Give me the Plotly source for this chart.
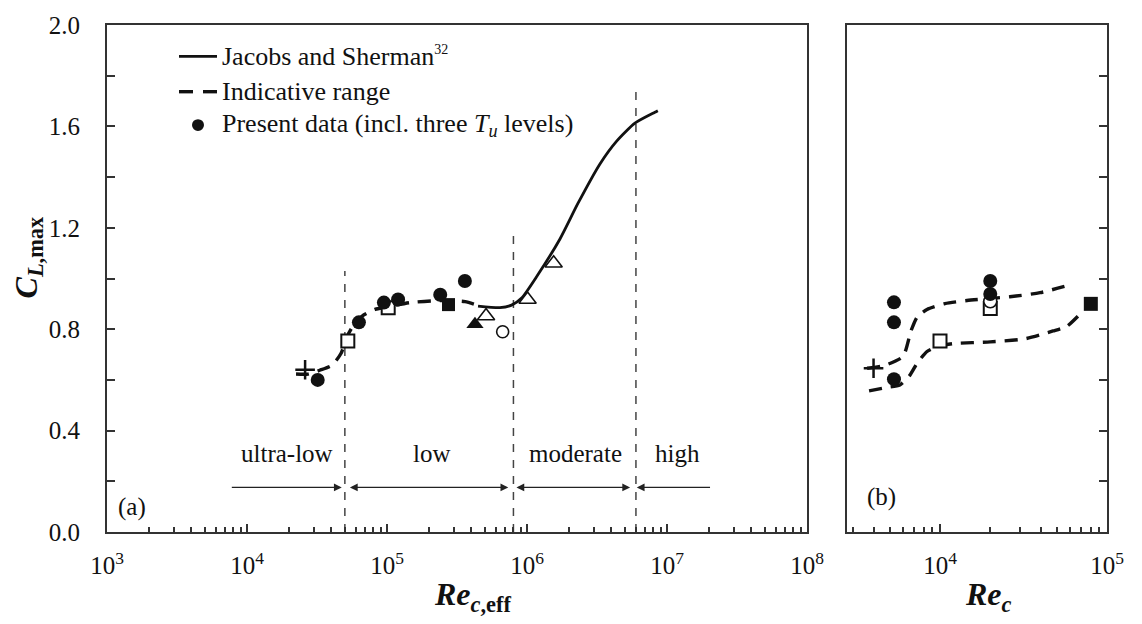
import numpy as np
import plotly.graph_objects as go

# ---------------- data ----------------
# Panel (a): Jacobs and Sherman curve
js_x = [4.47e5, 6.41e5, 7.76e5, 9.16e5, 1.17e6, 1.72e6, 2.31e6, 3.32e6, 4.37e6, 5.90e6, 8.20e6, 8.6e6]
js_y = [0.891, 0.885, 0.895, 0.923, 1.007, 1.156, 1.296, 1.452, 1.542, 1.613, 1.656, 1.662]

# Panel (a): indicative range (dashed)
ind_x = [2.24e4, 2.73e4, 3.31e4, 4.05e4, 4.69e4, 5.18e4, 5.71e4, 6.62e4, 8.2e4, 1.05e5, 1.46e5, 2.39e5, 3.61e5, 4.47e5]
ind_y = [0.623, 0.623, 0.638, 0.658, 0.704, 0.770, 0.812, 0.851, 0.878, 0.890, 0.905, 0.913, 0.909, 0.894]

# Panel (a): markers
a_fc_x = [3.2e4, 6.3e4, 9.5e4, 1.2e5, 2.4e5, 3.6e5]
a_fc_y = [0.600, 0.827, 0.905, 0.917, 0.936, 0.990]
a_os_x = [5.25e4, 1.02e5]
a_os_y = [0.753, 0.885]
a_fs_x = [2.75e5]
a_fs_y = [0.897]
a_ft_x = [4.25e5]
a_ft_y = [0.820]
a_ot_x = [5.1e5, 1.01e6, 1.55e6]
a_ot_y = [0.852, 0.917, 1.060]
a_oc_x = [6.7e5]
a_oc_y = [0.790]
a_pl_x = [2.6e4]
a_pl_y = [0.640]

# Regime boundaries
bound_x = [5.0e4, 8.0e5, 6.0e6]
bound_top = [1.03, 1.19, 1.75]
regime_names = ["ultra-low", "low", "moderate", "high"]
regime_x = [1.93e4, 2.08e5, 2.23e6, 1.19e7]
regime_y = 0.31
arrow_y = 0.176
arrow_tail = [7.6e3, 5.3e4, 8.2e5, 2.08e7]
arrow_head = [4.75e4, 7.35e5, 5.45e6, 6.08e6]
arrow_side = ["end", "end+start", "end+start", "end"]

# Panel (b): indicative range upper / lower
bu_x = [3.66e3, 4.69e3, 6.0e3, 6.7e3, 7.28e3, 8.36e3, 1.07e4, 1.45e4, 2.62e4, 3.97e4, 6.17e4]
bu_y = [0.646, 0.658, 0.692, 0.793, 0.847, 0.878, 0.901, 0.913, 0.928, 0.944, 0.977]
bl_x = [3.76e3, 4.69e3, 5.75e3, 6.61e3, 7.28e3, 8.36e3, 9.6e3, 1.2e4, 2.0e4, 3.23e4, 4.75e4, 5.77e4, 6.7e4]
bl_y = [0.557, 0.569, 0.580, 0.619, 0.665, 0.712, 0.731, 0.743, 0.750, 0.762, 0.793, 0.812, 0.851]

# Panel (b): markers
b_fc_x = [5.3e3, 5.3e3, 5.3e3, 2.0e4, 2.0e4]
b_fc_y = [0.906, 0.827, 0.603, 0.990, 0.939]
b_oc_x = [2.0e4]
b_oc_y = [0.910]
b_os_x = [1.0e4, 2.0e4]
b_os_y = [0.753, 0.882]
b_fs_x = [8.0e4]
b_fs_y = [0.900]
b_pl_x = [4.0e3]
b_pl_y = [0.646]

ytick_vals = [round(0.2 * i, 1) for i in range(11)]
ytick_text = [f"{v:.1f}" if i % 2 == 0 else "" for i, v in enumerate(ytick_vals)]

# ---------------- figure ----------------
FONT = "Liberation Serif"
K = "#111111"
AX = "#333333"

fig = go.Figure()

def mk(x, y, symbol, filled, size, xa="x", ya="y", lw=2):
    fig.add_trace(go.Scatter(
        x=x, y=y, mode="markers", xaxis=xa, yaxis=ya, showlegend=False,
        marker=dict(symbol=symbol, size=size,
                    color=K if filled else "white",
                    line=dict(color=K, width=0 if filled else lw))))

# region boundaries (thin dashed)
for bx, bt in zip(bound_x, bound_top):
    fig.add_trace(go.Scatter(x=[bx, bx], y=[0, bt], mode="lines", showlegend=False,
                             line=dict(color="#444444", width=1.5, dash="8px,8px")))

# curves panel (a)
fig.add_trace(go.Scatter(x=ind_x, y=ind_y, mode="lines", showlegend=False,
                         line=dict(color=K, width=3.4, dash="13px,9px", shape="spline", smoothing=0.6)))
fig.add_trace(go.Scatter(x=js_x, y=js_y, mode="lines", showlegend=False,
                         line=dict(color=K, width=2.8, shape="spline", smoothing=0.6)))

# markers panel (a)
mk(a_pl_x, a_pl_y, "cross-thin", False, 14, lw=2.5)
mk(a_os_x, a_os_y, "square", False, 13)
mk(a_fc_x, a_fc_y, "circle", True, 14)
mk(a_fs_x, a_fs_y, "square", True, 13)
mk(a_ft_x, a_ft_y, "triangle-up", True, 15)
mk(a_ot_x, a_ot_y, "triangle-up", False, 15, lw=1.6)
mk(a_oc_x, a_oc_y, "circle", False, 12, lw=1.6)

# panel (b)
for xs, ys in ((bu_x, bu_y), (bl_x, bl_y)):
    fig.add_trace(go.Scatter(x=xs, y=ys, mode="lines", xaxis="x2", yaxis="y2", showlegend=False,
                             line=dict(color=K, width=3.4, dash="13px,9px", shape="spline", smoothing=0.6)))
mk(b_pl_x, b_pl_y, "cross-thin", False, 14, "x2", "y2", lw=2.5)
mk(b_os_x, b_os_y, "square", False, 13, "x2", "y2")
mk(b_oc_x, b_oc_y, "circle", False, 13, "x2", "y2", lw=1.6)
mk(b_fc_x, b_fc_y, "circle", True, 14, "x2", "y2")
mk(b_fs_x, b_fs_y, "square", True, 14, "x2", "y2")

# ---------------- axes ----------------
def dec_minor(lo, hi):
    vals = []
    for d in range(lo, hi):
        for m in range(2, 10):
            vals.append(m * 10 ** d)
    return vals

common_x = dict(type="log", showgrid=False, zeroline=False, showline=True, mirror=True,
                linecolor=AX, linewidth=2, ticks="inside", ticklen=8, tickwidth=1.5, tickcolor=AX,
                tickfont=dict(family=FONT, size=25, color=K), ticklabelstandoff=10)
common_y = dict(range=[0, 2], showgrid=False, zeroline=False, showline=True, mirror=True,
                linecolor=AX, linewidth=2, ticks="inside", ticklen=8, tickwidth=1.5, tickcolor=AX,
                tickmode="array", tickvals=ytick_vals,
                tickfont=dict(family=FONT, size=25, color=K))

fig.update_layout(
    width=1142, height=624,
    margin=dict(l=107, r=35, t=15, b=92),
    paper_bgcolor="white", plot_bgcolor="white",
    font=dict(family=FONT, color=K),
    xaxis=dict(domain=[0, 0.7], range=[3, 8], anchor="y",
               tickmode="array", tickvals=[10 ** k for k in range(3, 9)],
               ticktext=[f"10<sup>{k}</sup>" for k in range(3, 9)],
               minor=dict(tickmode="array", tickvals=dec_minor(3, 8), ticks="inside",
                          ticklen=5, tickwidth=1.5, tickcolor=AX, showgrid=False),
               **common_x),
    yaxis=dict(domain=[0, 1], anchor="x", ticktext=ytick_text, ticklabelstandoff=20, **common_y),
    xaxis2=dict(domain=[0.74, 1.0], range=[np.log10(2774), 5], anchor="y2",
                tickmode="array", tickvals=[1e4, 1e5],
                ticktext=["10<sup>4</sup>", "10<sup>5</sup>"],
                minor=dict(tickmode="array", tickvals=dec_minor(3, 5), ticks="inside",
                           ticklen=5, tickwidth=1.5, tickcolor=AX, showgrid=False),
                **common_x),
    yaxis2=dict(domain=[0, 1], anchor="x2", side="right", showticklabels=False, **common_y),
)

# ---------------- annotations ----------------
def PX(x):
    return (x - 107) / 1000.0

def PY(y):
    return (532 - y) / 517.0

ann = []
# regime labels and arrows (data coords, log10 for x)
for name, rx in zip(regime_names, regime_x):
    ann.append(dict(x=np.log10(rx), y=regime_y, xref="x", yref="y", text=name, showarrow=False,
                    font=dict(family=FONT, size=25, color=K), xanchor="center", yanchor="middle"))
for t, h, s in zip(arrow_tail, arrow_head, arrow_side):
    ann.append(dict(x=np.log10(h), y=arrow_y, ax=np.log10(t), ay=arrow_y, xref="x", yref="y",
                    axref="x", ayref="y", text="", showarrow=True, arrowhead=2, arrowsize=1.3,
                    arrowwidth=1.2, arrowcolor="#222222", arrowside=s, standoff=0, startstandoff=0,
                    startarrowhead=2, startarrowsize=1.3))

def txt(xp, yp, text, size, xanchor="center", angle=0):
    ann.append(dict(x=PX(xp), y=PY(yp), xref="paper", yref="paper", text=text, showarrow=False,
                    xanchor=xanchor, yanchor="middle", textangle=angle,
                    font=dict(family=FONT, size=size, color=K)))

# panel labels
txt(132, 506, "(a)", 25)
txt(881, 496, "(b)", 25)

# legend text
txt(220, 47, 'Jacobs and Sherman<sup><span style="font-size:14px">32</span></sup>', 26, "left")
txt(220, 83, "Indicative range", 26, "left")
txt(220, 117, "Present data (incl. three <i>T<sub>u</sub></i> levels)", 26, "left")

# axis titles
txt(472, 598, "<b><i>Re</i><sub><i>c</i>,eff</sub></b>", 32)
txt(988, 598, "<b><i>Re</i><sub><i>c</i></sub></b>", 32)
txt(28, 252, "<b><i>C</i><sub><i>L</i>,max</sub></b>", 32, angle=-90)

fig.update_layout(annotations=ann)

# legend samples (paper coords)
shapes = [
    dict(type="line", xref="paper", yref="paper", x0=PX(179), x1=PX(217), y0=PY(47), y1=PY(47),
         line=dict(color=K, width=2.8)),
    dict(type="line", xref="paper", yref="paper", x0=PX(179), x1=PX(193), y0=PY(83), y1=PY(83),
         line=dict(color=K, width=3.4)),
    dict(type="line", xref="paper", yref="paper", x0=PX(203), x1=PX(217), y0=PY(83), y1=PY(83),
         line=dict(color=K, width=3.4)),
    dict(type="circle", xref="paper", yref="paper", x0=PX(192), x1=PX(204), y0=PY(123), y1=PY(111),
         fillcolor=K, line=dict(color=K, width=0)),
]
fig.update_layout(shapes=shapes)

fig.write_html("out.html")
